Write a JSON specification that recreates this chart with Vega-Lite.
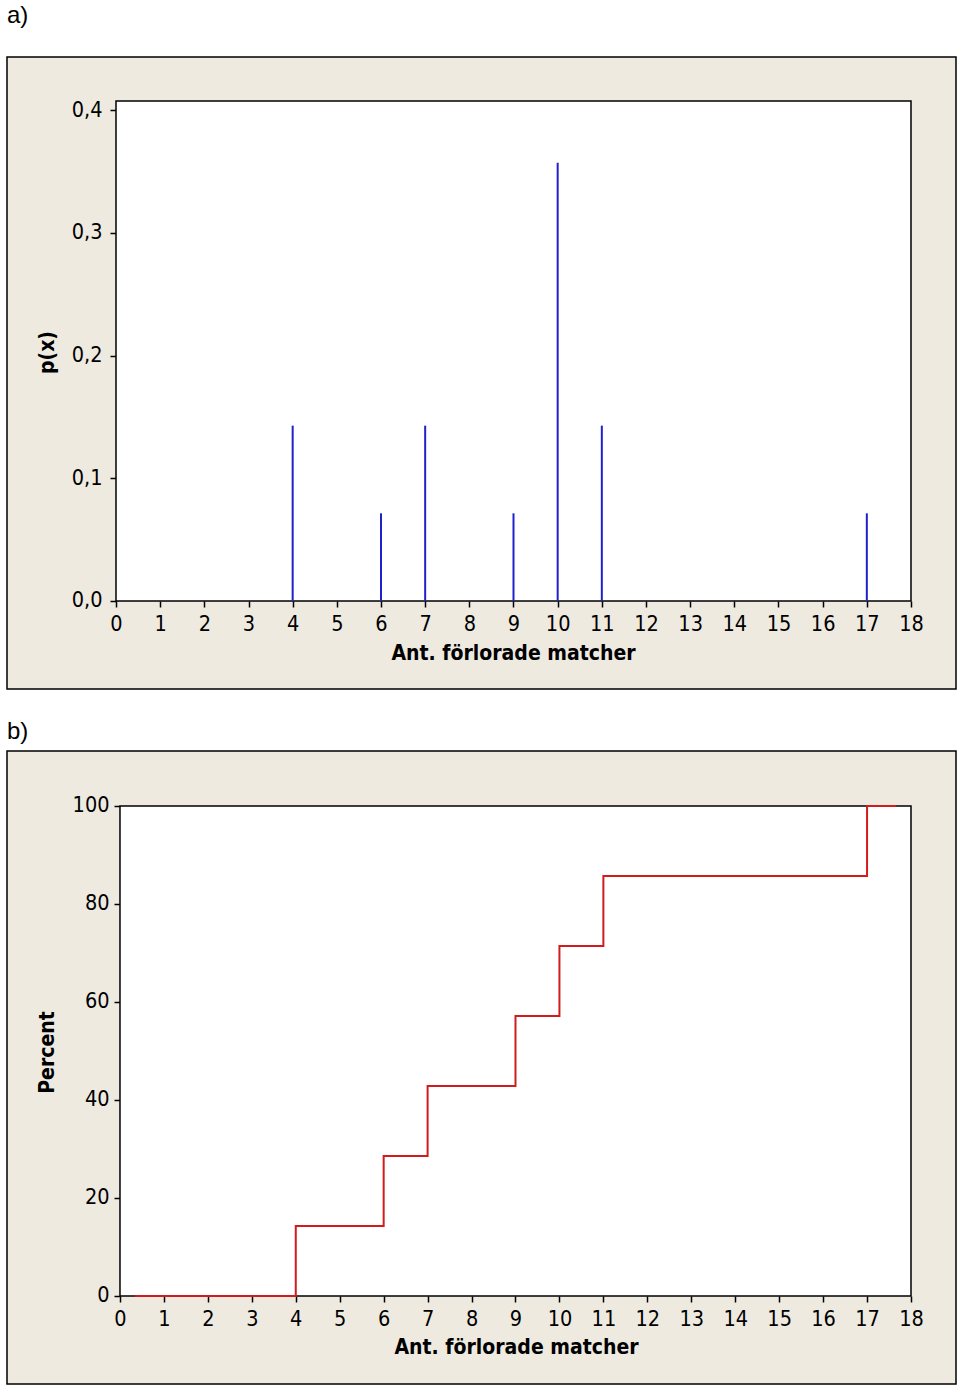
{
  "$schema": "https://vega.github.io/schema/vega-lite/v6.json",
  "background": "white",
  "padding": {"left": 6, "top": 3, "right": 3, "bottom": 2},
  "spacing": 29,
  "config": {
    "view": {"fill": "#EEEAE0", "stroke": "#000000", "strokeWidth": 1.5},
    "title": {"anchor": "start", "font": "Liberation Sans", "fontSize": 24, "fontWeight": "normal", "color": "#000000", "offset": 29},
    "axis": {
      "domain": false, "grid": false, "ticks": true, "tickColor": "#000000", "tickWidth": 1.5, "tickSize": 6,
      "labelColor": "#000000", "labelFont": "DejaVu Sans Condensed, DejaVu Sans", "labelFontSize": 21.5,
      "labelOverlap": false, "labelFlush": false,
      "titleFont": "DejaVu Sans Condensed, DejaVu Sans", "titleFontWeight": "bold", "titleFontSize": 21, "titleColor": "#000000"
    }
  },
  "vconcat": [
    {
      "title": "a)",
      "width": 949,
      "height": 632,
      "layer": [
        {
          "data": {"values": [{}]},
          "mark": {"type": "rect", "fill": "white", "stroke": "black", "strokeWidth": 1.5},
          "encoding": {
            "x": {"datum": 0, "type": "quantitative",
              "scale": {"domain": [-2.468, 19.019], "nice": false, "zero": false},
              "axis": {"title": "Ant. förlorade matcher", "offset": -88, "values": [0,1,2,3,4,5,6,7,8,9,10,11,12,13,14,15,16,17,18], "labelPadding": 6, "titleX": 506, "titleY": 58, "titleBaseline": "alphabetic", "titleAlign": "center"}},
            "x2": {"datum": 18},
            "y": {"datum": 0, "type": "quantitative",
              "scale": {"domain": [-0.0717, 0.4432], "nice": false, "zero": false},
              "axis": {"title": "p(x)", "offset": -109, "values": [0, 0.1, 0.2, 0.3, 0.4], "labelExpr": "replace(format(datum.value, '.1f'), '.', ',')", "labelPadding": 8, "titleX": -69, "titleY": 295, "titleBaseline": "middle", "titleAlign": "center", "titleAngle": 270}},
            "y2": {"datum": 0.4073}
          }
        },
        {
          "data": {"values": [
            {"x": 4, "p": 0.142857},
            {"x": 6, "p": 0.071429},
            {"x": 7, "p": 0.142857},
            {"x": 9, "p": 0.071429},
            {"x": 10, "p": 0.357143},
            {"x": 11, "p": 0.142857},
            {"x": 17, "p": 0.071429}
          ]},
          "mark": {"type": "rule", "color": "#2020CC", "strokeWidth": 2},
          "encoding": {
            "x": {"field": "x", "type": "quantitative", "axis": {"title": "Ant. förlorade matcher"}},
            "y": {"field": "p", "type": "quantitative", "axis": {"title": "p(x)"}},
            "y2": {"datum": 0}
          }
        }
      ]
    },
    {
      "title": {"text": "b)", "offset": 7},
      "width": 949,
      "height": 633,
      "layer": [
        {
          "data": {"values": [{}]},
          "mark": {"type": "rect", "fill": "white", "stroke": "black", "strokeWidth": 1.5},
          "encoding": {
            "x": {"datum": 0, "type": "quantitative",
              "scale": {"domain": [-2.571, 19.024], "nice": false, "zero": false},
              "axis": {"title": "Ant. förlorade matcher", "offset": -88, "values": [0,1,2,3,4,5,6,7,8,9,10,11,12,13,14,15,16,17,18], "labelPadding": 6, "titleX": 509, "titleY": 57, "titleBaseline": "alphabetic", "titleAlign": "center"}},
            "x2": {"datum": 18},
            "y": {"datum": 0, "type": "quantitative",
              "scale": {"domain": [-17.96, 111.22], "nice": false, "zero": false},
              "axis": {"title": "Percent", "offset": -113, "values": [0, 20, 40, 60, 80, 100], "labelPadding": 5, "titleX": -73, "titleY": 301, "titleBaseline": "middle", "titleAlign": "center", "titleAngle": 270}},
            "y2": {"datum": 100}
          }
        },
        {
          "data": {"values": [
            {"x": 0.34, "pct": 0},
            {"x": 4, "pct": 14.2857},
            {"x": 6, "pct": 28.5714},
            {"x": 7, "pct": 42.8571},
            {"x": 9, "pct": 57.1429},
            {"x": 10, "pct": 71.4286},
            {"x": 11, "pct": 85.7143},
            {"x": 17, "pct": 100},
            {"x": 17.66, "pct": 100}
          ]},
          "mark": {"type": "line", "color": "#D01C1C", "strokeWidth": 2, "interpolate": "step-after"},
          "encoding": {
            "x": {"field": "x", "type": "quantitative", "axis": {"title": "Ant. förlorade matcher"}},
            "y": {"field": "pct", "type": "quantitative", "axis": {"title": "Percent"}}
          }
        }
      ]
    }
  ]
}
